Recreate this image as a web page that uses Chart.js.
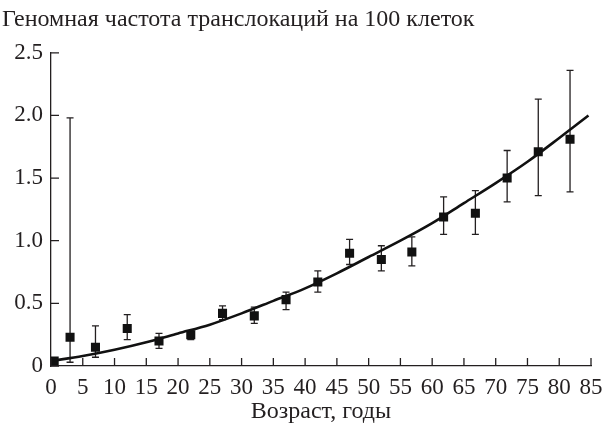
<!DOCTYPE html>
<html>
<head>
<meta charset="utf-8">
<script src="https://cdn.jsdelivr.net/npm/chart.js@4.4.1/dist/chart.umd.min.js"></script>
<style>
    html, body { margin: 0; padding: 0; background: #fff; }
    #wrap { width: 606px; height: 427px; }
</style>
</head>
<body>
<div id="wrap"><canvas id="chart" width="606" height="427"></canvas></div>
<script>
// measured points: age (years), frequency, error bar ends
const ages = [0.5, 3, 7, 12, 17, 22, 27, 32, 37, 42, 47, 52, 56.8, 61.8, 66.8, 71.8, 76.7, 81.7];
const freq = [0.04, 0.23, 0.15, 0.30, 0.20, 0.25, 0.42, 0.40, 0.53, 0.67, 0.90, 0.85, 0.91, 1.19, 1.22, 1.50, 1.71, 1.81];
const errHigh = [0.04, 1.98, 0.32, 0.41, 0.26, 0.28, 0.48, 0.47, 0.59, 0.76, 1.01, 0.96, 1.03, 1.35, 1.40, 1.72, 2.13, 2.36];
const errLow = [0.04, 0.03, 0.07, 0.21, 0.14, 0.21, 0.37, 0.34, 0.45, 0.59, 0.81, 0.76, 0.80, 1.05, 1.05, 1.31, 1.36, 1.39];

// fitted curve
const curveAges = [0, 5, 10, 15, 20, 25, 30, 35, 40, 45, 50, 55, 60, 65, 70, 75, 80, 84.6];
const curveFreq = [0.04, 0.08, 0.13, 0.19, 0.26, 0.33, 0.42, 0.52, 0.62, 0.74, 0.87, 1.00, 1.14, 1.30, 1.46, 1.63, 1.82, 2.00];

const xTicks = [0, 5, 10, 15, 20, 25, 30, 35, 40, 45, 50, 55, 60, 65, 70, 75, 80, 85];
const yTicks = [0, 0.5, 1.0, 1.5, 2.0, 2.5];

const ink = '#231f20';
const serif = 'Liberation Serif';

const errorBars = {
    id: 'errorBars',
    beforeDatasetsDraw(chart) {
        const x = chart.scales.x, y = chart.scales.y, ctx = chart.ctx;
        ctx.save();
        ctx.strokeStyle = ink;
        ctx.lineWidth = 1.3;
        ages.forEach(function (a, i) {
            if (errHigh[i] === errLow[i]) return;
            const px = x.getPixelForValue(a);
            const top = y.getPixelForValue(errHigh[i]);
            const bot = y.getPixelForValue(errLow[i]);
            ctx.beginPath();
            ctx.moveTo(px, top); ctx.lineTo(px, bot);
            ctx.moveTo(px - 3.5, top); ctx.lineTo(px + 3.5, top);
            ctx.moveTo(px - 3.5, bot); ctx.lineTo(px + 3.5, bot);
            ctx.stroke();
        });
        ctx.restore();
    }
};

// tick marks point inward, into the plot
const innerTicks = {
    id: 'innerTicks',
    afterDraw(chart) {
        const x = chart.scales.x, y = chart.scales.y, ctx = chart.ctx;
        ctx.save();
        ctx.strokeStyle = ink;
        ctx.lineWidth = 1.3;
        ctx.beginPath();
        x.ticks.forEach(function (t) {
            const px = x.getPixelForValue(t.value);
            ctx.moveTo(px, y.bottom); ctx.lineTo(px, y.bottom - 8);
        });
        y.ticks.forEach(function (t) {
            const py = y.getPixelForValue(t.value);
            ctx.moveTo(x.left, py); ctx.lineTo(x.left + 8, py);
        });
        ctx.stroke();
        ctx.restore();
    }
};

new Chart(document.getElementById('chart'), {
    type: 'scatter',
    data: {
        datasets: [{
            type: 'line',
            data: curveAges.map((a, i) => ({ x: a, y: curveFreq[i] })),
            borderColor: '#111',
            borderWidth: 2.6,
            pointRadius: 0,
            cubicInterpolationMode: 'monotone',
            fill: false
        }, {
            data: ages.map((a, i) => ({ x: a, y: freq[i] })),
            pointStyle: 'rect',
            pointRadius: 6.4,
            backgroundColor: '#111',
            borderColor: '#111',
            borderWidth: 0
        }]
    },
    options: {
        responsive: false,
        animation: false,
        layout: { padding: { left: 2, right: 0, top: 5, bottom: 0 } },
        plugins: {
            legend: { display: false },
            tooltip: { enabled: false },
            title: {
                display: true,
                text: 'Геномная частота транслокаций на 100 клеток',
                align: 'start',
                color: ink,
                font: { family: serif, size: 24, weight: 'normal', lineHeight: 1.2 },
                padding: { top: 0, bottom: 19 }
            }
        },
        scales: {
            x: {
                type: 'linear',
                min: 0,
                max: 85,
                afterBuildTicks: function (s) { s.ticks = xTicks.map(v => ({ value: v })); },
                afterFit: function (s) {
                    s.height = 61;
                    s.paddingLeft = 0;
                    s.paddingRight = 15;
                },
                grid: { display: false, drawTicks: false },
                border: { display: true, color: ink, width: 1.3 },
                ticks: {
                    color: ink,
                    padding: 8,
                    maxRotation: 0,
                    autoSkip: false,
                    font: { family: serif, size: 23 }
                },
                title: {
                    display: true,
                    text: 'Возраст, годы',
                    color: ink,
                    font: { family: serif, size: 24, lineHeight: 1.2 },
                    padding: { top: 0, bottom: 1 }
                }
            },
            y: {
                min: 0,
                max: 2.5,
                afterBuildTicks: function (s) { s.ticks = yTicks.map(v => ({ value: v })); },
                afterFit: function (s) { s.width = 49; },
                grid: { display: false, drawTicks: false },
                border: { display: true, color: ink, width: 1.3 },
                ticks: {
                    color: ink,
                    padding: 8,
                    font: { family: serif, size: 23 },
                    callback: function (v) { return v === 0 ? '0' : v.toFixed(1); }
                }
            }
        }
    },
    plugins: [errorBars, innerTicks]
});
</script>
</body>
</html>
